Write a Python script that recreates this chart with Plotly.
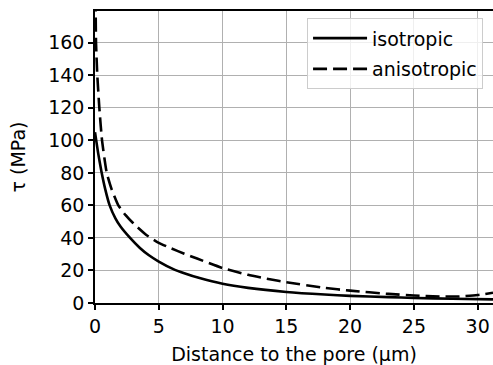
import plotly.graph_objects as go

iso_x = [0, 0.25, 0.5, 0.8, 1.15, 1.6, 2.0, 2.75, 3.5, 4.2, 5, 6.1, 7, 8.2, 10, 12, 15, 18, 20, 23, 25, 28, 31.2]
iso_y = [105, 92, 81, 70, 60, 52, 47, 40, 34, 29.5, 25.5, 21, 18.3, 15.3, 11.8, 9.3, 6.8, 5.2, 4.4, 3.6, 3.1, 2.6, 2.2]

aniso_x = [0.02, 0.05, 0.08, 0.18, 0.34, 0.55, 0.92, 1.3, 1.83, 2.4, 3, 4, 5, 6, 7, 8, 10, 12, 13.7, 15, 18, 20, 23, 25, 27, 28.5, 30, 31.2]
aniso_y = [200, 180, 160, 140, 120, 100, 80, 70, 60, 54, 49, 42, 37, 33.5, 30.3, 27.3, 21.5, 17.3, 14.6, 12.8, 9.3, 7.6, 5.6, 4.6, 4.0, 4.0, 4.9, 6.3]

x_ticks = [0, 5, 10, 15, 20, 25, 30]
y_ticks = [0, 20, 40, 60, 80, 100, 120, 140, 160]

FONT = "DejaVu Sans"
FS = 19

fig = go.Figure()
fig.add_trace(go.Scatter(x=iso_x, y=iso_y, mode="lines", name="isotropic",
                         line=dict(color="black", width=2.6, shape="spline", smoothing=0.5),
                         legendgroup="a"))
fig.add_trace(go.Scatter(x=aniso_x, y=aniso_y, mode="lines", name="anisotropic",
                         line=dict(color="black", width=2.6, dash="14px,6px", shape="spline", smoothing=0.5),
                         legendgroup="b"))

fig.update_layout(
    width=493, height=365,
    margin=dict(l=95, r=0, t=11, b=62),
    plot_bgcolor="white", paper_bgcolor="white",
    font=dict(family=FONT, size=FS, color="black"),
    showlegend=True,
    legend=dict(x=0.975, y=0.975, xanchor="right", yanchor="top",
                bgcolor="rgba(255,255,255,0.8)", bordercolor="#cccccc", borderwidth=1,
                font=dict(family=FONT, size=FS), traceorder="grouped", tracegroupgap=3,
                itemwidth=54),
    xaxis=dict(range=[0, 31.2], tickvals=x_ticks, showgrid=True, gridcolor="#b0b0b0", gridwidth=1.3,
               showline=True, linecolor="black", linewidth=1.5, mirror=True,
               ticks="outside", ticklen=5, tickwidth=1.5, tickcolor="black", zeroline=False,
               title=dict(text="Distance to the pore (µm)", standoff=12, font=dict(size=FS))),
    yaxis=dict(range=[0, 179.5], tickvals=y_ticks, showgrid=True, gridcolor="#b0b0b0", gridwidth=1.3,
               showline=True, linecolor="black", linewidth=1.5,
               ticks="outside", ticklen=5, tickwidth=1.5, tickcolor="black", zeroline=False,
               title=dict(text="τ (MPa)", standoff=18, font=dict(size=FS))),
)

fig.write_html("out.html")
